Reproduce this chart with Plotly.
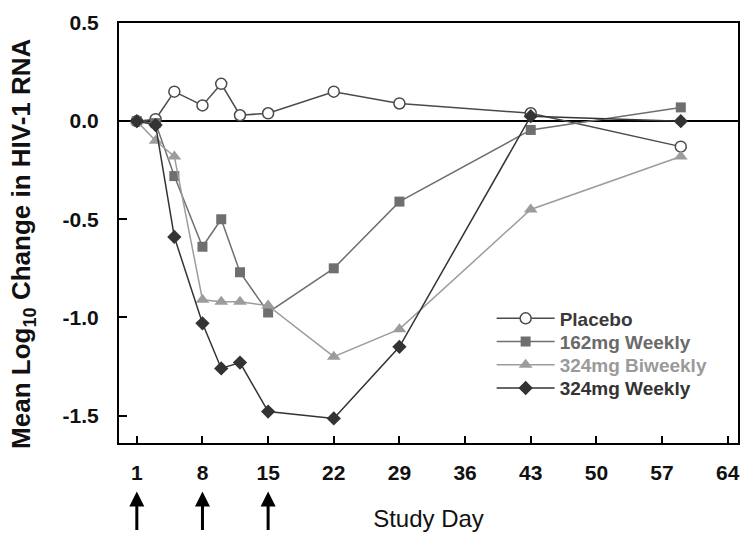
import plotly.graph_objects as go

# ---- data ----
days = [1, 3, 5, 8, 10, 12, 15, 22, 29, 43, 59]
placebo = [0.0, 0.01, 0.15, 0.08, 0.19, 0.03, 0.04, 0.15, 0.09, 0.04, -0.13]
mg162_weekly = [0.0, -0.01, -0.28, -0.64, -0.50, -0.77, -0.975, -0.75, -0.41, -0.045, 0.07]
mg324_biweekly = [0.0, -0.10, -0.18, -0.91, -0.92, -0.92, -0.94, -1.20, -1.06, -0.45, -0.18]
mg324_weekly = [0.0, -0.02, -0.59, -1.03, -1.26, -1.23, -1.48, -1.515, -1.15, 0.025, 0.0]

x_ticks = [1, 8, 15, 22, 29, 36, 43, 50, 57, 64]
y_ticks = [0.5, 0.0, -0.5, -1.0, -1.5]
y_ticktext = ["0.5", "0.0", "-0.5", "-1.0", "-1.5"]
dose_days = [1, 8, 15]

FONT = "Liberation Sans, Arial, Helvetica, sans-serif"

series = [
    ("Placebo", placebo, "#4a4a4a", "circle-open", 11, "#3a3a3a"),
    ("162mg Weekly", mg162_weekly, "#6f6f6f", "square", 10, "#6a6a6a"),
    ("324mg Biweekly", mg324_biweekly, "#9c9c9c", "triangle-up", 12, "#9a9a9a"),
    ("324mg Weekly", mg324_weekly, "#333333", "diamond", 11, "#333333"),
]
legend_ids = ["legend", "legend2", "legend3", "legend4"]
legend_rows_px = [317, 340.5, 364, 387.5]   # item centres (px from top)

PLOT_TOP, PLOT_BOTTOM = 18, 443

fig = go.Figure()
for (name, vals, col, sym, size, tcol), lid in zip(series, legend_ids):
    marker = dict(symbol=sym, size=size, color=col)
    if sym == "circle-open":
        marker = dict(symbol="circle", size=size, color="white",
                      line=dict(color=col, width=1.5))
    fig.add_trace(go.Scatter(
        x=days, y=vals, mode="lines+markers",
        name=f"<span style='color:{tcol}'>{name}</span>",
        line=dict(color=col, width=1.5),
        marker=marker, legend=lid,
    ))

for d in dose_days:
    fig.add_annotation(
        x=d, y=-0.1155, xref="x", yref="paper", text="",
        showarrow=True, ax=0, ay=40, axref="pixel", ayref="pixel",
        arrowhead=2, arrowsize=1.0, arrowwidth=3, arrowcolor="black",
    )

fig.add_annotation(
    x=-0.185, y=0.474, xref="paper", yref="paper",
    text="<b>Mean Log<sub>10</sub> Change in HIV-1 RNA</b>",
    textangle=-90, showarrow=False,
    font=dict(family=FONT, size=26, color="#111111"),
)

legend_common = dict(
    x=0.602, xanchor="left", yanchor="middle",
    font=dict(family=FONT, size=19, weight="bold"),
    bgcolor="rgba(0,0,0,0)", itemwidth=58,
)
legend_layout = {}
for lid, ypx in zip(legend_ids, legend_rows_px):
    legend_layout[lid] = dict(
        legend_common, y=(PLOT_BOTTOM - ypx) / (PLOT_BOTTOM - PLOT_TOP))

fig.update_layout(
    width=751, height=542,
    margin=dict(l=119, r=11, t=PLOT_TOP, b=542 - PLOT_BOTTOM),
    plot_bgcolor="white", paper_bgcolor="white",
    showlegend=True,
    **legend_layout,
    xaxis=dict(
        range=[-0.9, 65.1], tickvals=x_ticks,
        showline=True, linecolor="black", linewidth=2, mirror=True,
        ticks="inside", ticklen=7, tickwidth=1.5, tickcolor="black",
        showgrid=False, zeroline=False,
        tickfont=dict(family=FONT, size=21, weight="bold", color="#111111"),
        ticklabelstandoff=10,
        title=dict(text="Study Day", standoff=27,
                   font=dict(family=FONT, size=24, color="#111111")),
    ),
    yaxis=dict(
        range=[-1.64, 0.5], tickvals=y_ticks, ticktext=y_ticktext,
        showline=True, linecolor="black", linewidth=2, mirror=True,
        ticks="inside", ticklen=8, tickwidth=1.5, tickcolor="black",
        showgrid=False,
        zeroline=True, zerolinecolor="black", zerolinewidth=2,
        tickfont=dict(family=FONT, size=21, weight="bold", color="#111111"),
        ticklabelstandoff=14,
    ),
)

fig.write_html(
    "out.html",
    config={"displayModeBar": False},
    post_script=(
        "document.body.style.margin='0';document.body.style.padding='0';"
        "document.body.style.overflow='hidden';"
        "var g=document.querySelector('.plotly-graph-div');"
        "g.style.position='absolute';g.style.top='0px';g.style.left='0px';"
    ),
)
